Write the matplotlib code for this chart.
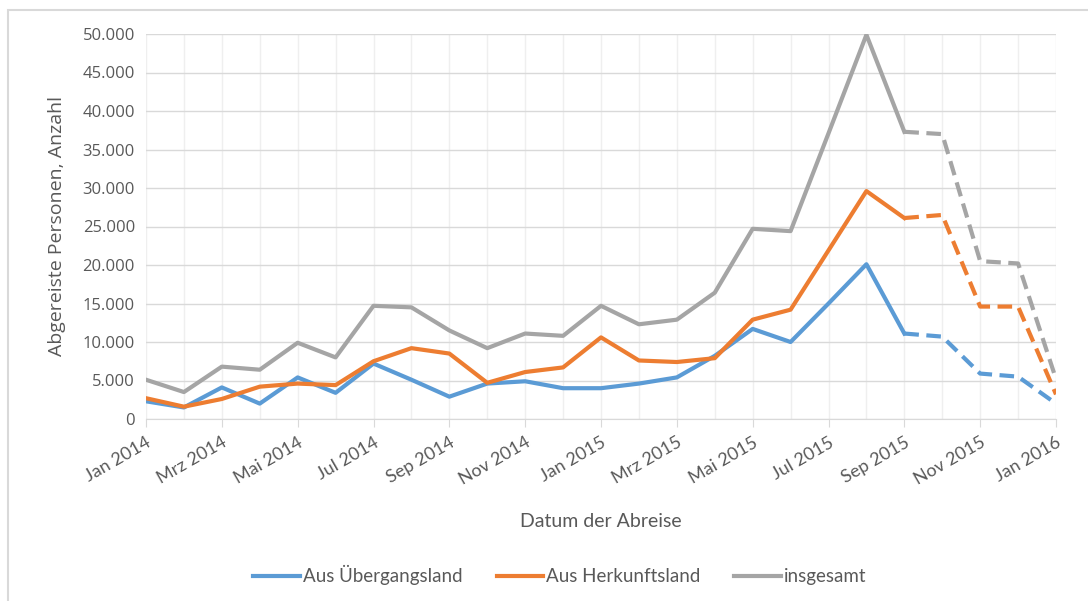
import matplotlib.pyplot as plt
from matplotlib.patches import Rectangle
from matplotlib.lines import Line2D

months = ['Jan 2014', 'Feb 2014', 'Mrz 2014', 'Apr 2014', 'Mai 2014', 'Jun 2014',
          'Jul 2014', 'Aug 2014', 'Sep 2014', 'Okt 2014', 'Nov 2014', 'Dez 2014',
          'Jan 2015', 'Feb 2015', 'Mrz 2015', 'Apr 2015', 'Mai 2015', 'Jun 2015',
          'Jul 2015', 'Aug 2015', 'Sep 2015', 'Okt 2015', 'Nov 2015', 'Dez 2015',
          'Jan 2016']

uebergang = [2300, 1500, 4100, 2000, 5400, 3400, 7200, 5100, 2900, 4600, 4900, 4000,
             4000, 4600, 5400, 8200, 11700, 10000, 15000, 20100, 11100, 10700, 5900,
             5500, 2000]
herkunft = [2700, 1600, 2600, 4200, 4600, 4400, 7500, 9200, 8500, 4700, 6100, 6700,
            10600, 7600, 7400, 7900, 12900, 14200, 21900, 29600, 26100, 26500, 14600,
            14600, 3200]
insgesamt = [5100, 3500, 6800, 6400, 9900, 8000, 14700, 14500, 11500, 9200, 11100, 10800,
             14700, 12300, 12900, 16400, 24700, 24400, 37100, 49900, 37300, 37000, 20500,
             20200, 5200]

series = [('Aus Übergangsland', uebergang, '#5B9BD5'),
          ('Aus Herkunftsland', herkunft, '#ED7D31'),
          ('insgesamt', insgesamt, '#A5A5A5')]

split = 20  # ab Sep 2015 gestrichelt
txt = '#595959'
narrow = ['Lato', 'DejaVu Sans']
wide = ['Open Sans', 'DejaVu Sans']

fig = plt.figure(figsize=(10.88, 6.01), dpi=100)
fig.patches.append(Rectangle((8 / 1088, -0.1), 1.2, (601 - 10) / 601 + 0.1,
                             transform=fig.transFigure, fill=False,
                             edgecolor='#d9d9d9', linewidth=1.5))
ax = fig.add_axes([146 / 1088, 182 / 601, 910 / 1088, 385 / 601])

x = list(range(len(months)))
handles = []
for name, vals, col in series:
    ax.plot(x[:split + 1], vals[:split + 1], color=col, lw=3, zorder=3)
    ax.plot(x[split:], vals[split:], color=col, lw=3, ls=(0, (3.5, 1.8)), zorder=3)
    handles.append(Line2D([], [], color=col, lw=3, label=name))

ax.set_xlim(0, 24)
ax.set_ylim(0, 50000)
ax.set_yticks(range(0, 50001, 5000))
ax.set_yticklabels([f'{v:,}'.replace(',', '.') for v in range(0, 50001, 5000)],
                   fontsize=12, color=txt, family=wide)
ax.set_xticks(x[::2])
ax.set_xticks(x, minor=True)
ax.set_xticklabels(months[::2], rotation=30, ha='right', rotation_mode='anchor',
                   fontsize=13, color=txt, family=narrow)
ax.tick_params(axis='y', length=0, pad=8)
ax.tick_params(axis='x', which='major', length=6, color='#d9d9d9', pad=5)
ax.tick_params(axis='x', which='minor', length=0)

ax.grid(axis='y', color='#d9d9d9', lw=1)
ax.grid(axis='x', which='both', color='#efefef', lw=1)
ax.set_axisbelow(True)
for s in ['top', 'right', 'left']:
    ax.spines[s].set_visible(False)
ax.spines['bottom'].set_color('#d9d9d9')

ax.set_xlabel('Datum der Abreise', fontsize=14, color=txt, family=narrow, labelpad=18)
ax.set_ylabel('Abgereiste Personen, Anzahl', fontsize=14, color=txt,
              family=wide, labelpad=12)

fig.legend(handles=handles, loc='center', bbox_to_anchor=(560 / 1088, 1 - 575 / 601), ncol=3,
           frameon=False, prop={'family': narrow, 'size': 13.5}, labelcolor=txt,
           handlelength=2.5, handletextpad=0.15, columnspacing=1.8)

fig.savefig('out.png', dpi=100)
